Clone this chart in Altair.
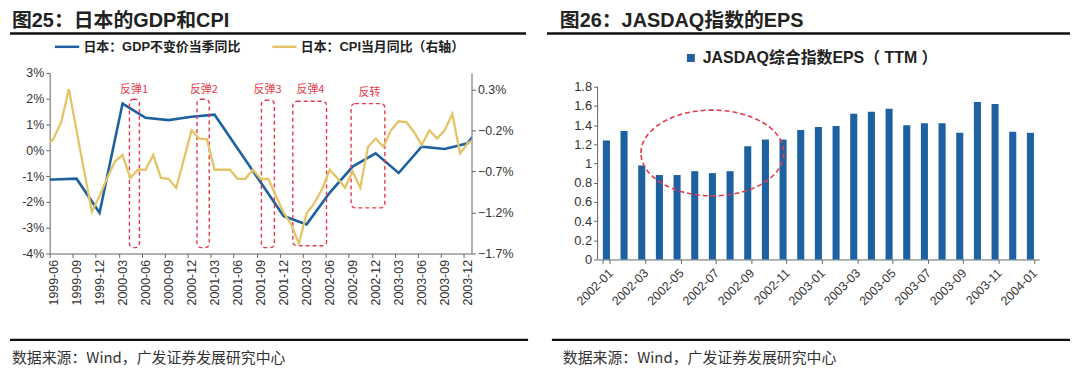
import altair as alt
import pandas as pd

# ---------------- text ----------------
title_left = "图25：日本的GDP和CPI"
title_right = "图26：JASDAQ指数的EPS"
source_text = "数据来源：Wind，广发证券发展研究中心"
gdp_name = "日本：GDP不变价当季同比"
cpi_name = "日本：CPI当月同比（右轴）"
eps_name = "JASDAQ综合指数EPS（ TTM ）"

# ---------------- left chart data ----------------
x_tick_labels = ["1999-06", "1999-09", "1999-12", "2000-03", "2000-06", "2000-09",
                 "2000-12", "2001-03", "2001-06", "2001-09", "2001-12", "2002-03",
                 "2002-06", "2002-09", "2002-12", "2003-03", "2003-06", "2003-09",
                 "2003-12"]

cpi_months = [str(p) for p in pd.period_range("1999-05", "2004-01", freq="M")]
cpi_values = [-0.40, -0.30, -0.10, 0.30, -0.20, -0.70, -1.19, -1.00, -0.78, -0.58,
              -0.50, -0.78, -0.68, -0.68, -0.50, -0.78, -0.79, -0.90, -0.55, -0.20,
              -0.30, -0.31, -0.68, -0.68, -0.68, -0.79, -0.79, -0.68, -0.79, -0.79,
              -1.00, -1.20, -1.35, -1.58, -1.21, -1.09, -0.92, -0.68, -0.78, -0.90,
              -0.70, -0.90, -0.40, -0.30, -0.40, -0.20, -0.09, -0.10, -0.22, -0.38,
              -0.20, -0.30, -0.20, 0.00, -0.48, -0.36, -0.30]

gdp_quarters = ["1999-03", "1999-06", "1999-09", "1999-12", "2000-03", "2000-06",
                "2000-09", "2000-12", "2001-03", "2001-06", "2001-09", "2001-12",
                "2002-03", "2002-06", "2002-09", "2002-12", "2003-03", "2003-06",
                "2003-09", "2003-12", "2004-03"]
gdp_values = [-1.16, -1.13, -1.10, -2.42, 1.81, 1.26, 1.17, 1.30, 1.38, 0.07, -1.24,
              -2.55, -2.87, -1.65, -0.63, -0.12, -0.88, 0.14, 0.05, 0.27, 1.50]

# annotation boxes (month-index units on x, left-axis % on y)
box_labels = ["反弹1", "反弹2", "反弹3", "反弹4", "反转"]
box_x0 = [10.4, 19.2, 27.6, 31.7, 39.3]
box_x1 = [11.7, 20.8, 29.3, 36.1, 43.7]
box_y0 = [-3.77, -3.77, -3.77, -3.70, -2.23]
box_y1 = [1.98, 1.98, 1.94, 1.90, 1.81]
label_x = [11.0, 20.1, 28.4, 34.0, 41.7]
label_y = [2.33, 2.33, 2.33, 2.33, 2.23]

# ---------------- right chart data ----------------
eps_months = [str(p) for p in pd.period_range("2002-01", "2004-01", freq="M")]
eps_values = [1.24, 1.34, 0.98, 0.88, 0.88, 0.92, 0.90, 0.92, 1.18, 1.25, 1.25,
              1.35, 1.38, 1.39, 1.52, 1.54, 1.57, 1.40, 1.42, 1.42, 1.32, 1.64,
              1.62, 1.33, 1.32]
circle_month = ["2002-07"]
circle_value = [1.11]

# ---------------- styles ----------------
BLUE = "#1d61a0"
GOLD = "#e3c466"
RED = "#e53a4a"
INK = "#222222"
AXIS = "#666666"
LAT = "Liberation Sans"
CJK = "Liberation Sans, Noto Sans CJK SC"


def month_index(m):
    y, mo = m.split("-")
    return (int(y) - 1999) * 12 + int(mo) - 6


cpi_df = pd.DataFrame({"pos": [month_index(m) + 0.5 for m in cpi_months],
                       "val": cpi_values, "series": cpi_name})
gdp_df = pd.DataFrame({"pos": [month_index(m) + 0.5 for m in gdp_quarters],
                       "val": gdp_values, "series": gdp_name})
box_df = pd.DataFrame({"pos": box_x0, "pos2": box_x1, "val": box_y0, "val2": box_y1})
lab_df = pd.DataFrame({"pos": label_x, "val": label_y, "t": box_labels})
eps_df = pd.DataFrame({"month": eps_months, "eps": eps_values, "series": eps_name})
circ_df = pd.DataFrame({"month": circle_month, "eps": circle_value})

LW, LH = 425, 182          # left plot area
RW, RH = 445, 188          # right plot area (top aligned with left)
R_MAX = 1.8 * RH / 174.0   # right y-domain so that 1.8 sits 14px below top

xl_arr = "[" + ",".join("'" + s + "'" for s in x_tick_labels) + "]"

x_scale_l = alt.Scale(domain=[0, 55], nice=False, zero=False)
x_axis_l = alt.Axis(values=list(range(0, 55, 3)),
                    labelExpr=xl_arr + "[round(datum.value/3)]",
                    labelAngle=270, labelOffset=4, title=None,
                    labelFontSize=12.5, tickSize=4, labelOverlap=False)
y_scale_l = alt.Scale(domain=[-4, 3], nice=False, zero=False)
y_axis_l = alt.Axis(values=list(range(-4, 4)), labelExpr="datum.value + '%'",
                    title=None, labelFontSize=12.5, tickSize=4, labelOverlap=False,
                    tickCount=8)

color_left = alt.Color("series:N",
                       scale=alt.Scale(domain=[gdp_name, cpi_name], range=[BLUE, GOLD]),
                       legend=alt.Legend(title=None, orient="none", legendX=4, legendY=-40,
                                         direction="horizontal", symbolType="stroke",
                                         symbolSize=600, symbolStrokeWidth=2.5,
                                         labelFontSize=13, labelFont=CJK,
                                         labelFontWeight="bold", labelColor=INK,
                                         columnPadding=26, labelOffset=3, labelLimit=400))

blue_line = alt.Chart(gdp_df).mark_line(strokeWidth=2.6, clip=True).encode(
    x=alt.X("pos:Q", scale=x_scale_l, axis=x_axis_l),
    y=alt.Y("val:Q", scale=y_scale_l, axis=y_axis_l),
    color=color_left,
)

boxes = alt.Chart(box_df).mark_rect(filled=False, stroke=RED, strokeDash=[4, 3],
                                   strokeWidth=1.4, cornerRadius=4).encode(
    x=alt.X("pos:Q", scale=x_scale_l, axis=x_axis_l), x2="pos2:Q",
    y=alt.Y("val:Q", scale=y_scale_l, axis=y_axis_l), y2="val2:Q")

box_text = alt.Chart(lab_df).mark_text(color=RED, fontSize=11, font="Noto Sans CJK SC").encode(
    x=alt.X("pos:Q", scale=x_scale_l, axis=x_axis_l),
    y=alt.Y("val:Q", scale=y_scale_l, axis=y_axis_l), text="t:N")


def decorations(title, rx0, rx1, bx0, bx1, sx):
    one = pd.DataFrame({"t": [title], "s": [source_text]})
    t = alt.Chart(one).mark_text(align="left", baseline="top", fontSize=20,
                                 fontWeight="bold", font=CJK, color=INK).encode(
        x=alt.value(-38), y=alt.value(-62.7), text="t:N")
    r1 = alt.Chart(one).mark_rule(color="#111111", strokeWidth=2.6).encode(
        x=alt.value(rx0), x2=alt.value(rx1), y=alt.value(-39.7))
    r2 = alt.Chart(one).mark_rule(color="#111111", strokeWidth=2.2).encode(
        x=alt.value(bx0), x2=alt.value(bx1), y=alt.value(269))
    s = alt.Chart(one).mark_text(align="left", baseline="middle", fontSize=15,
                                 font="Noto Sans CJK SC", color="#333333").encode(
        x=alt.value(sx), y=alt.value(287), text="s:N")
    return [t, r1, r2, s]


left_main = alt.layer(blue_line, boxes, box_text,
                      *decorations(title_left, -40, 480, -40, 482, -38))

gold_line = alt.Chart(cpi_df).mark_line(strokeWidth=2.3, clip=True).encode(
    x=alt.X("pos:Q", scale=x_scale_l, axis=x_axis_l),
    y=alt.Y("val:Q", scale=alt.Scale(domain=[-1.7, 0.5], nice=False, zero=False),
            axis=alt.Axis(orient="right", values=[-1.7, -1.2, -0.7, -0.2, 0.3],
                          labelExpr="format(datum.value, '.1f') + '%'",
                          title=None, labelFontSize=12.5, tickSize=4, labelOverlap=False)),
    color=color_left,
)

left = alt.layer(left_main, gold_line).resolve_scale(y="independent").properties(
    width=LW, height=LH)

# ---------------- right chart ----------------
x_scale_r = alt.Scale(domain=eps_months, paddingInner=0.6, paddingOuter=0.3)
x_axis_r = alt.Axis(values=eps_months[::2], labelAngle=315, tickBand="extent",
                    title=None, labelFontSize=12.5, tickSize=4, labelPadding=3,
                    labelOverlap=False)
y_scale_r = alt.Scale(domain=[0, R_MAX], nice=False, zero=True)
y_axis_r = alt.Axis(values=[0, 0.2, 0.4, 0.6, 0.8, 1.0, 1.2, 1.4, 1.6, 1.8],
                    labelExpr="format(datum.value, '.1~f')", domain=False,
                    title=None, labelFontSize=13, tickSize=4, labelOverlap=False)

bars = alt.Chart(eps_df).mark_bar().encode(
    x=alt.X("month:N", scale=x_scale_r, axis=x_axis_r),
    y=alt.Y("eps:Q", scale=y_scale_r, axis=y_axis_r),
    color=alt.Color("series:N", scale=alt.Scale(domain=[eps_name], range=[BLUE]),
                    legend=alt.Legend(title=None, orient="none", legendX=86, legendY=-23,
                                      symbolType="square", symbolSize=64,
                                      labelFontSize=16, labelFont=CJK,
                                      labelFontWeight="bold", labelColor=INK,
                                      labelLimit=400, labelOffset=4)))

yaxis_line = alt.Chart(pd.DataFrame({"a": [0]})).mark_rule(color=AXIS, strokeWidth=1).encode(
    x=alt.value(0), y=alt.value(RH - RH * 1.8 / R_MAX), y2=alt.value(RH))

ELLIPSE = ("M -1 0 C -1 -0.3314 -0.5523 -0.6 0 -0.6 C 0.5523 -0.6 1 -0.3314 1 0 "
           "C 1 0.3314 0.5523 0.6 0 0.6 C -0.5523 0.6 -1 0.3314 -1 0 Z")
ellipse = alt.Chart(circ_df).mark_point(shape=ELLIPSE, size=20736, filled=False,
                                        stroke=RED, strokeWidth=1.6,
                                        strokeDash=[5, 3], opacity=1).encode(
    x=alt.X("month:N", scale=x_scale_r, axis=x_axis_r),
    y=alt.Y("eps:Q", scale=y_scale_r, axis=y_axis_r))

right = alt.layer(bars, yaxis_line, ellipse,
                  *decorations(title_right, -51, 476, -46, 476, -35)).properties(
    width=RW, height=RH)

chart = alt.hconcat(left, right, spacing=127, bounds="flush").resolve_scale(
    color="independent").properties(padding=0).configure_axis(
    labelFont=LAT, labelColor="#333333", domainColor=AXIS, tickColor=AXIS, grid=False,
    labelOverlap=False
).configure_view(stroke="transparent")

chart.save("out.html", embed_options={"renderer": "svg", "actions": False})
